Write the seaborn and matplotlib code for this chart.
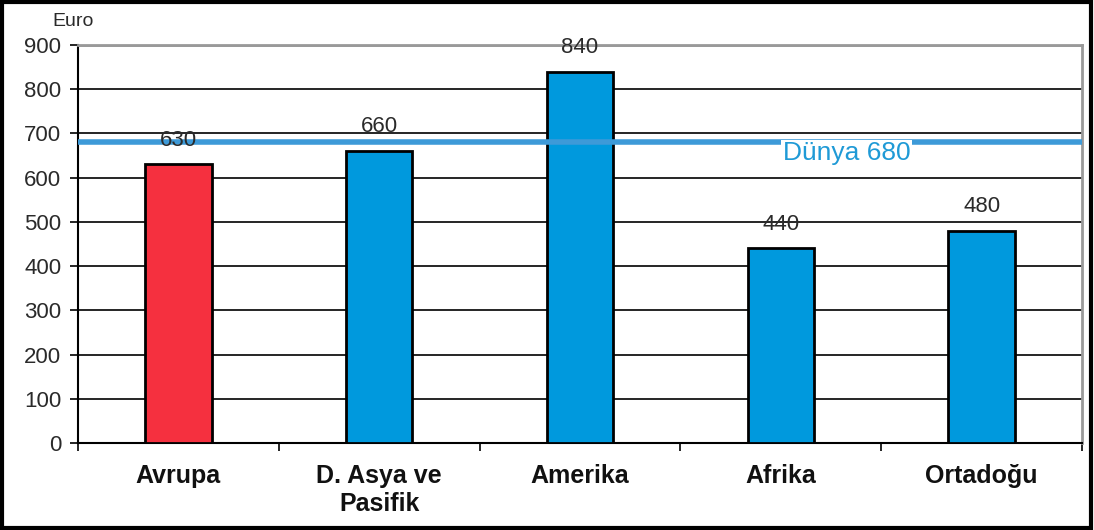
import matplotlib
matplotlib.use("Agg")
import matplotlib.pyplot as plt
import seaborn as sns
import pandas as pd
from matplotlib.patches import Rectangle

regions = ["Avrupa", "D. Asya ve\nPasifik", "Amerika", "Afrika", "Ortadoğu"]
values = [630, 660, 840, 440, 480]
bar_colors = ["#f5303f", "#0099dd", "#0099dd", "#0099dd", "#0099dd"]
world_value = 680
world_label = "Dünya 680"
y_ticks = [0, 100, 200, 300, 400, 500, 600, 700, 800, 900]

sns.set_theme(style="white")
plt.rcParams["font.family"] = ["Liberation Sans", "DejaVu Sans"]

df = pd.DataFrame({"region": regions, "value": values})

fig = plt.figure(figsize=(10.94, 5.30), dpi=100)
ax = fig.add_axes([78 / 1094, 1 - 443 / 530, (1082 - 78) / 1094, (443 - 45) / 530])

sns.barplot(data=df, x="region", y="value", hue="region", palette=bar_colors,
            legend=False, width=0.33, edgecolor="black", linewidth=2,
            saturation=1, ax=ax, zorder=3)

ax.set_ylim(0, 900)
ax.set_xlim(-0.5, len(regions) - 0.5)
ax.set_yticks(y_ticks)
ax.set_yticklabels([str(t) for t in y_ticks], fontsize=16, color="#2a2a2a")
ax.set_xlabel("")
ax.set_ylabel("")

# horizontal gridlines
for t in y_ticks[1:-1]:
    ax.axhline(t, color="black", linewidth=1.2, zorder=1)
ax.axhline(900, color="#999999", linewidth=2, zorder=1)

# world average line with its label sitting on it
ax.axhline(world_value, color="#3d9ad8", linewidth=4, zorder=4)
ax.text(3.01, world_value + 2, world_label, ha="left", va="top", fontsize=19,
        color="#1f9ad6", zorder=5,
        bbox=dict(facecolor="white", edgecolor="none", pad=1.0))

# value labels above bars
for i, v in enumerate(values):
    ax.text(i, v + 55, str(v), ha="center", va="center", fontsize=16,
            color="#2a2a2a", zorder=6)

# spines
for s in ["top", "right"]:
    ax.spines[s].set_visible(True)
    ax.spines[s].set_color("#999999")
    ax.spines[s].set_linewidth(2)
ax.spines["left"].set_color("black")
ax.spines["left"].set_linewidth(1.5)
ax.spines["bottom"].set_color("black")
ax.spines["bottom"].set_linewidth(1.5)

# category labels, ticks at category boundaries
ax.set_xticks(range(len(regions)))
ax.set_xticklabels(regions, fontsize=18, fontweight="bold", color="#111111",
                   linespacing=1.2)
ax.tick_params(axis="x", length=0, pad=15)
ax.set_xticks([i - 0.5 for i in range(len(regions) + 1)], minor=True)
ax.tick_params(axis="x", which="minor", direction="out", length=6, width=1.2,
               color="black", bottom=True)
for lbl in ax.get_xticklabels():
    lbl.set_va("top")
ax.tick_params(axis="y", direction="out", length=6, width=1.2, color="black",
               left=True, pad=6)

fig.text(52 / 1094, 1 - 21 / 530, "Euro", fontsize=14, ha="left", va="center",
         color="#2a2a2a")

# outer frame
fig.patches.append(Rectangle((0.002, 0.004), 0.995, 0.992, transform=fig.transFigure,
                             fill=False, edgecolor="black", linewidth=3))

fig.savefig("out.png", dpi=100, facecolor="white")
